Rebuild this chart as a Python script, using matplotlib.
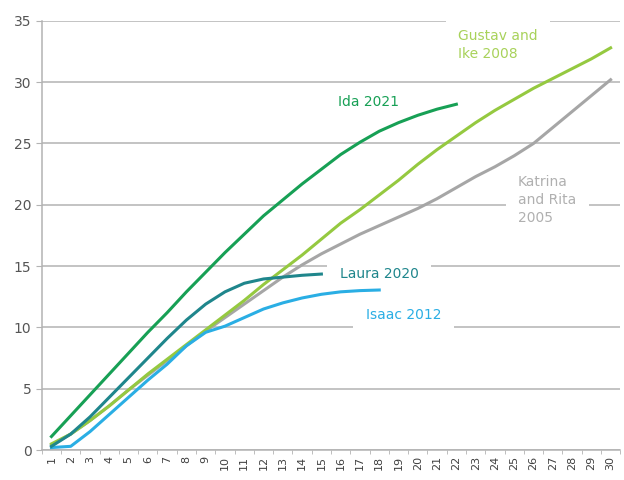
import matplotlib.pyplot as plt

days = list(range(1, 31))

ida = [1.1, 2.8, 4.5, 6.2, 7.9, 9.6, 11.2, 12.9, 14.5, 16.1, 17.6, 19.1, 20.4,
       21.7, 22.9, 24.1, 25.1, 26.0, 26.7, 27.3, 27.8, 28.2]
laura = [0.3, 1.3, 2.7, 4.3, 5.9, 7.5, 9.1, 10.6, 11.9, 12.9, 13.6, 13.95, 14.1,
         14.25, 14.35]
gustav = [0.5, 1.3, 2.4, 3.6, 4.9, 6.2, 7.4, 8.6, 9.8, 11.0, 12.2, 13.5, 14.7,
          15.9, 17.2, 18.5, 19.6, 20.8, 22.0, 23.3, 24.5, 25.6, 26.7, 27.7,
          28.6, 29.5, 30.3, 31.1, 31.9, 32.8]
katrina = [0.4, 1.3, 2.4, 3.6, 4.9, 6.1, 7.3, 8.5, 9.7, 10.8, 11.9, 13.0, 14.1,
           15.1, 16.0, 16.8, 17.6, 18.3, 19.0, 19.7, 20.5, 21.4, 22.3, 23.1,
           24.0, 25.0, 26.3, 27.6, 28.9, 30.2]
isaac = [0.2, 0.3, 1.5, 2.9, 4.3, 5.7, 7.0, 8.5, 9.6, 10.1, 10.8, 11.5, 12.0,
         12.4, 12.7, 12.9, 13.0, 13.05]

fig = plt.figure(figsize=(6.24, 4.8), dpi=100)
ax = fig.add_axes([0.067, 0.0625, 0.927, 0.894])

ax.plot(days[:len(katrina)], katrina, color='#a6a6a6', lw=2.2, zorder=3)
ax.plot(days[:len(gustav)], gustav, color='#95c940', lw=2.2, zorder=3)
ax.plot(days[:len(isaac)], isaac, color='#2aaee4', lw=2.2, zorder=3)
ax.plot(days[:len(laura)], laura, color='#1f868c', lw=2.2, zorder=3)
ax.plot(days[:len(ida)], ida, color='#17a055', lw=2.2, zorder=3)

box = dict(facecolor='white', edgecolor='none', pad=9)
kw = dict(fontsize=10, va='center', bbox=box, zorder=2)
ax.text(17.45, 28.4, 'Ida 2021', color='#17a055', ha='center', fontsize=10, va='center')
ax.text(22.1, 33.0, 'Gustav and\nIke 2008', color='#a8d25a', ha='left', linespacing=1.35, **kw)
ax.text(25.2, 20.4, 'Katrina\nand Rita\n2005', color='#b0b0b0', ha='left', linespacing=1.35, **kw)
ax.text(15.95, 14.35, 'Laura 2020', color='#1f868c', ha='left', **kw)
ax.text(17.3, 11.0, 'Isaac 2012', color='#2aaee4', ha='left', **kw)

ax.set_xlim(0.5, 30.5)
ax.set_ylim(0, 35)
ax.set_yticks(range(0, 36, 5))
ax.set_xticks(days)
ax.set_xticks([d + 0.5 for d in range(0, 31)], minor=True)
ax.set_xticklabels([str(d) for d in days], rotation=90)
ax.grid(axis='y', color='#b3b3b3', lw=1.1)
ax.set_axisbelow(True)
ax.tick_params(axis='x', which='major', length=0, labelsize=8, colors='#404040', pad=4)
ax.tick_params(axis='x', which='minor', length=3, color='#b3b3b3')
ax.tick_params(axis='y', length=4, color='#b3b3b3', labelsize=10, labelcolor='#555555')
for s in ['top', 'right']:
    ax.spines[s].set_visible(False)
for s in ['left', 'bottom']:
    ax.spines[s].set_color('#b3b3b3')
    ax.spines[s].set_linewidth(1.1)

fig.savefig('out.png', dpi=100)
